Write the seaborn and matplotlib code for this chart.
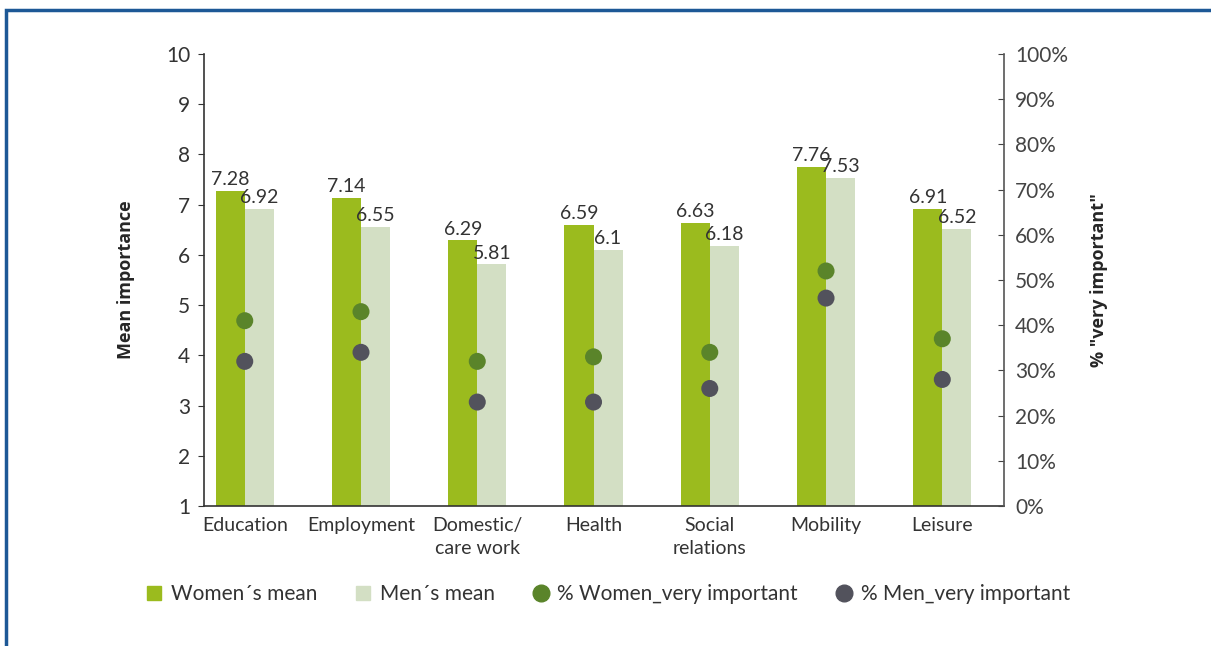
import seaborn as sns
import matplotlib.pyplot as plt
import matplotlib.patches as mpatches
from matplotlib.lines import Line2D
import pandas as pd

categories = ["Education", "Employment", "Domestic/\ncare work", "Health",
              "Social\nrelations", "Mobility", "Leisure"]
women_mean = [7.28, 7.14, 6.29, 6.59, 6.63, 7.76, 6.91]
men_mean = [6.92, 6.55, 5.81, 6.1, 6.18, 7.53, 6.52]
women_very = [41, 43, 32, 33, 34, 52, 37]
men_very = [32, 34, 23, 23, 26, 46, 28]

c_women = "#9bbb1e"
c_men = "#d3dfc4"
c_wdot = "#5a842a"
c_mdot = "#52525c"

sns.set_style("white")
plt.rcParams["font.family"] = ["Lato", "DejaVu Sans"]

df = pd.DataFrame({
    "cat": categories * 2,
    "mean": women_mean + men_mean,
    "sex": ["Women´s mean"] * 7 + ["Men´s mean"] * 7,
})

fig = plt.figure(figsize=(12.11, 6.46), dpi=100)
ax = fig.add_axes([0.1685, 0.2167, 0.6605, 0.6997])
sns.barplot(data=df, x="cat", y="mean", hue="sex", ax=ax, width=0.5,
            palette=[c_women, c_men], saturation=1, legend=False,
            linewidth=0)
for cont in ax.containers:
    ax.bar_label(cont, labels=[f"{v:g}" for v in cont.datavalues],
                 padding=2, fontsize=14, color="#333333")

ax.set_ylim(1, 10)
ax.set_xlim(-0.35, 6.53)
ax.set_yticks(range(1, 11))
ax.set_xlabel("")
ax.set_ylabel("Mean importance", fontsize=13, fontweight="bold",
              family="Open Sans", labelpad=22)
ax.tick_params(axis="y", direction="out", length=4, labelsize=15,
               colors="#333333", left=True, pad=6)
ax.tick_params(axis="x", length=0, labelsize=14, colors="#333333", pad=8)
for lbl in ax.get_xticklabels():
    lbl.set_linespacing(1.45)
ax.spines["top"].set_visible(False)
ax.spines["right"].set_visible(False)
for s in ["left", "bottom"]:
    ax.spines[s].set_color("#333333")
    ax.spines[s].set_linewidth(1.2)

ax2 = ax.twinx()
xs = list(range(len(categories)))
sns.scatterplot(x=xs, y=women_very, ax=ax2, color=c_wdot, s=150,
                edgecolor="none", zorder=3)
sns.scatterplot(x=xs, y=men_very, ax=ax2, color=c_mdot, s=150,
                edgecolor="none", zorder=3)
ax2.set_ylim(0, 100)
ax2.set_yticks(range(0, 101, 10))
ax2.set_yticklabels([f"{v}%" for v in range(0, 101, 10)])
ax2.tick_params(axis="y", direction="in", length=4, labelsize=15,
                colors="#444444", right=True, pad=8)
ax2.set_ylabel('% "very important"', fontsize=13, fontweight="bold",
               family="Open Sans", labelpad=16)
for s in ["top", "left", "bottom"]:
    ax2.spines[s].set_visible(False)
ax2.spines["right"].set_color("#555555")
ax2.spines["right"].set_linewidth(1.2)

handles = [
    Line2D([], [], marker="s", ls="", color=c_women, markersize=10),
    Line2D([], [], marker="s", ls="", color=c_men, markersize=10),
    Line2D([], [], marker="o", ls="", color=c_wdot, markersize=12),
    Line2D([], [], marker="o", ls="", color=c_mdot, markersize=12),
]
labels = ["Women´s mean", "Men´s mean", "% Women_very important",
          "% Men_very important"]
fig.legend(handles, labels, loc="center", bbox_to_anchor=(0.502, 0.08),
           ncol=4, frameon=False, fontsize=15, handlelength=0.8,
           handletextpad=0.4, columnspacing=1.8, labelcolor="#333333")

fig.patches.append(mpatches.Rectangle((0.005, -0.1), 1.2, 1.085,
                   transform=fig.transFigure, fill=False,
                   edgecolor="#1d5896", linewidth=2.5))

fig.savefig("out.png", dpi=100)
